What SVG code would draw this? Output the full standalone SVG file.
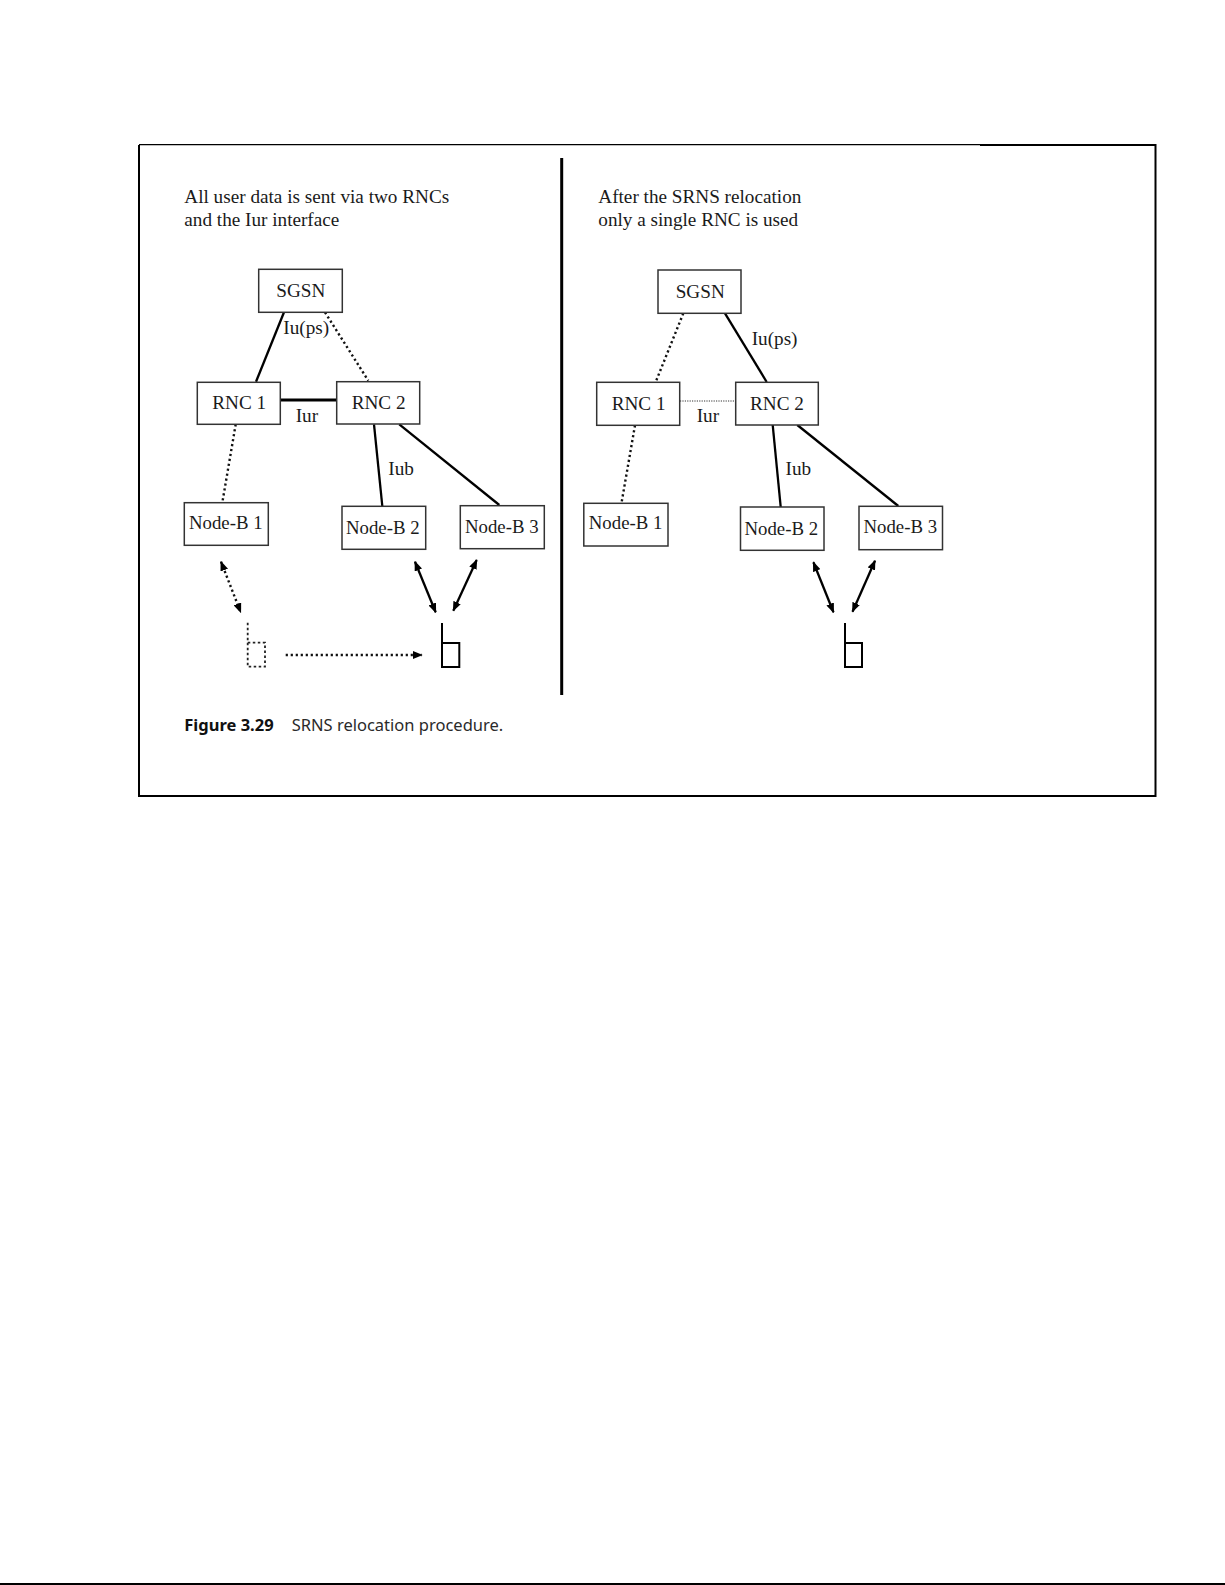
<svg xmlns="http://www.w3.org/2000/svg" width="1225" height="1585" viewBox="0 0 1225 1585">
<style>
text{font-family:"Liberation Serif","Times New Roman",serif;font-size:19.200px;fill:#1a1a1a}
.nb{font-size:18.800px}
.box{fill:#fff;stroke:#333;stroke-width:1.500}
.c{fill:none;stroke:#000;stroke-width:2.300}
.d{fill:none;stroke:#111;stroke-width:2.400;stroke-dasharray:2.200 2.800}
.thin{fill:none;stroke:#333;stroke-width:1;stroke-dasharray:1.200 1.200}
.ph{fill:none;stroke:#000;stroke-width:2}
.phd{fill:none;stroke:#222;stroke-width:1.800;stroke-dasharray:2.500 2.500}
.frame{fill:none;stroke:#000;stroke-width:2}
.cap{font-family:"Noto Sans","Open Sans",sans-serif;font-size:16.500px;fill:#2a2a2a}
.capb{font-weight:700;fill:#111}
</style>
<defs>
<marker id="ah" viewBox="0 0 10 8" refX="9" refY="4" markerWidth="10" markerHeight="8" markerUnits="userSpaceOnUse" orient="auto-start-reverse"><path d="M0,0L10,4L0,8z" fill="#000"/></marker>
</defs>
<rect width="1225" height="1585" fill="#fff"/>
<g id="frame">
<path class="frame" d="M980,145H1155.500V796H139V145"/>
<path d="M139,144.600H980" fill="none" stroke="#000" stroke-width="1.300"/>
<path d="M561.700,158V695" fill="none" stroke="#000" stroke-width="3"/>
<path d="M0,1584H1225" fill="none" stroke="#000" stroke-width="2"/>
</g>
<g id="connectors">
<path class="c" d="M284,312.300L256,381.700"/>
<path class="d" d="M325,312.300L368.300,380.700"/>
<path class="c" style="stroke-width:3.200" d="M281,400H337"/>
<path class="d" d="M235.700,424.300L222.300,502.700"/>
<path class="c" d="M374,424.300L382.300,506"/>
<path class="c" d="M399.300,424.300L499.300,505"/>
<path class="d" marker-start="url(#ah)" marker-end="url(#ah)" d="M221,561.700L240.700,612.300"/>
<path class="c" marker-start="url(#ah)" marker-end="url(#ah)" d="M415,561.700L435.700,612.300"/>
<path class="c" marker-start="url(#ah)" marker-end="url(#ah)" d="M476.700,560L453.300,610.700"/>
<path class="d" marker-end="url(#ah)" d="M285.700,655H421.700"/>
<path class="d" d="M683.300,313.300L655.700,382"/>
<path class="c" d="M725,313.300L766.700,382"/>
<path class="thin" d="M680,401H735.700"/>
<path class="d" d="M635,425.300L621.500,503"/>
<path class="c" d="M772.700,425L780.700,507"/>
<path class="c" d="M797.300,425L898.300,506"/>
<path class="c" marker-start="url(#ah)" marker-end="url(#ah)" d="M813.400,562.300L833.500,612.300"/>
<path class="c" marker-start="url(#ah)" marker-end="url(#ah)" d="M875,560.700L852.500,611.700"/>
</g>
<g id="left-sgsn"><rect class="box" x="258.700" y="269.300" width="83.600" height="43"/><text x="276.300" y="296.700">SGSN</text></g>
<g id="left-rnc1"><rect class="box" x="197.300" y="382.300" width="83" height="42"/><text x="212.300" y="409.300">RNC 1</text></g>
<g id="left-rnc2"><rect class="box" x="336.700" y="381.700" width="83" height="42.300"/><text x="351.700" y="409.300">RNC 2</text></g>
<g id="left-nodeb1"><rect class="box" x="184.300" y="502.700" width="84" height="42.600"/><text class="nb" x="189" y="529.300">Node-B 1</text></g>
<g id="left-nodeb2"><rect class="box" x="342" y="506.300" width="83.700" height="43"/><text class="nb" x="346" y="534">Node-B 2</text></g>
<g id="left-nodeb3"><rect class="box" x="460.300" y="505.700" width="84" height="43"/><text class="nb" x="465" y="532.700">Node-B 3</text></g>
<g id="left-phone-old"><path class="phd" d="M247.700,622.700V666.700H265V642.700H247.700"/></g>
<g id="left-phone-new"><path class="ph" d="M442,623V667H459.300V643H442"/></g>
<g id="right-sgsn"><rect class="box" x="658" y="270" width="83" height="43.300"/><text x="675.700" y="297.700">SGSN</text></g>
<g id="right-rnc1"><rect class="box" x="596.700" y="382.300" width="83" height="43"/><text x="611.700" y="410">RNC 1</text></g>
<g id="right-rnc2"><rect class="box" x="735.700" y="382.300" width="82.600" height="42.700"/><text x="750" y="410">RNC 2</text></g>
<g id="right-nodeb1"><rect class="box" x="583.800" y="503.300" width="84.200" height="42.700"/><text class="nb" x="588.800" y="529.300">Node-B 1</text></g>
<g id="right-nodeb2"><rect class="box" x="740.500" y="507" width="83.500" height="43.300"/><text class="nb" x="744.500" y="534.700">Node-B 2</text></g>
<g id="right-nodeb3"><rect class="box" x="859" y="506.300" width="83.500" height="43.400"/><text class="nb" x="863.500" y="533.300">Node-B 3</text></g>
<g id="right-phone"><path class="ph" d="M845,623V667H862V643H845"/></g>
<g id="labels">
<text x="184.300" y="202.700">All user data is sent via two RNCs</text>
<text x="184.300" y="226">and the Iur interface</text>
<text x="598.300" y="202.700">After the SRNS relocation</text>
<text x="598.300" y="226">only a single RNC is used</text>
<text x="283.300" y="334.300">Iu(ps)</text>
<text x="295.700" y="421.700">Iur</text>
<text x="388.300" y="475">Iub</text>
<text x="751.700" y="345">Iu(ps)</text>
<text x="696.700" y="421.700">Iur</text>
<text x="785.500" y="475">Iub</text>
<text class="cap capb" x="184.300" y="730.700">Figure 3.29</text>
<text class="cap" x="291.700" y="730.700">SRNS relocation procedure.</text>
</g>
</svg>
